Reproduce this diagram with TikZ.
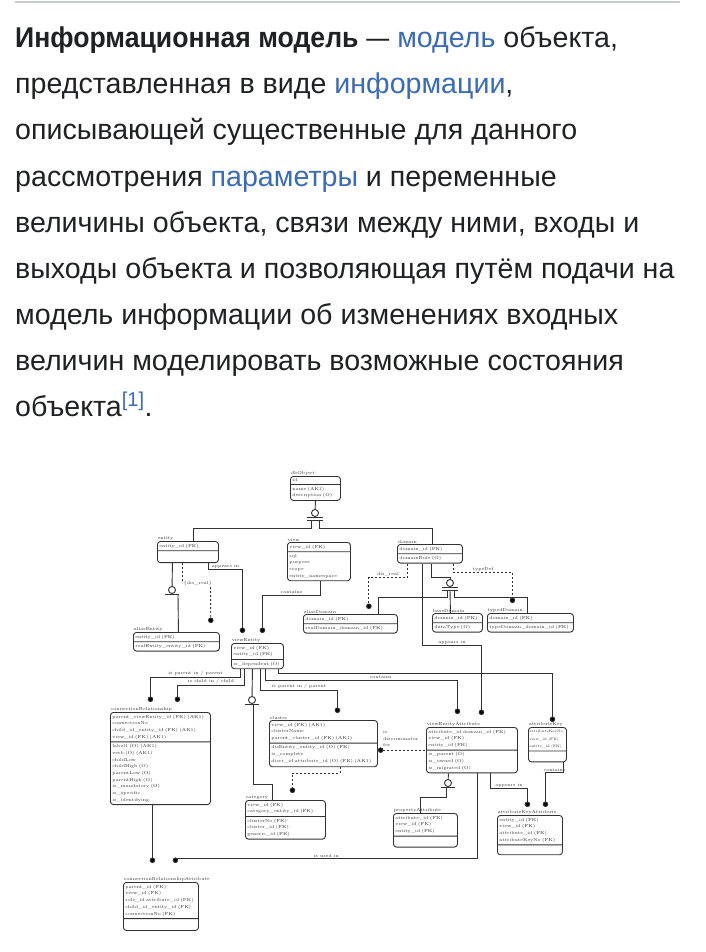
\documentclass[tikz,border=0pt]{standalone}
\usepackage{fontspec}
\usepackage{xcolor}
\usepackage{graphicx}
\usepackage{tikz}
\usetikzlibrary{arrows.meta,positioning,calc,shapes.multipart}

\newfontfamily\parafont{Liberation Sans}
\definecolor{wikitext}{RGB}{32,33,34}
\definecolor{wikilink}{RGB}{58,106,186}
\definecolor{wikirule}{RGB}{200,204,209}
\definecolor{erline}{RGB}{50,50,50}
\newcommand{\lnk}[1]{\textcolor{wikilink}{#1}}
\newcommand{\erfont}{\fontsize{4.4}{6.7}\selectfont}

\tikzset{
  para/.style={anchor=base west,inner sep=0pt,text=wikitext,font=\parafont\fontsize{28.6}{34}\selectfont},
  entbox/.style={rectangle split,rectangle split parts=2,draw=erline,line width=0.9pt,rounded corners=3pt,
    anchor=north west,font=\erfont,align=left,inner xsep=2pt,inner ysep=2pt,text=erline},
  ttl/.style={anchor=south west,font=\erfont,inner sep=0.6pt,text=erline},
  rel/.style={draw=erline,line width=0.9pt},
  nonid/.style={rel,dash pattern=on 2pt off 2pt},
  dotend/.style={-{Circle[length=5.5pt]}},
  catc/.style={circle,draw=erline,line width=0.9pt,minimum size=7pt,inner sep=0pt,fill=white},
  lbl/.style={font=\erfont,inner sep=0.8pt,text=erline}
}

\begin{document}
\begin{tikzpicture}[x=1pt,y=-1pt]
\fill[white] (0,0) rectangle (705,952);
\useasboundingbox (0,0) rectangle (705,952);
\draw[wikirule,line width=2pt] (15,2) -- (680,2);

\node[para] (l1) at (15,48) {\scalebox{0.93}[1]{\textbf{Информационная модель}} \scalebox{0.8}[1]{—} \lnk{модель} объекта,};
\node[para] (l2) at (15,94) {представленная в виде \lnk{информации},};
\node[para] (l3) at (15,140) {описывающей существенные для данного};
\node[para] (l4) at (15,186) {рассмотрения \lnk{параметры} и переменные};
\node[para] (l5) at (15,232) {величины объекта, связи между ними, входы и};
\node[para] (l6) at (15,278) {выходы объекта и позволяющая путём подачи на};
\node[para] (l7) at (15,324) {модель информации об изменениях входных};
\node[para] (l8) at (15,370) {величин моделировать возможные состояния};
\node[para] (l9) at (15,416) {объекта\textsuperscript{\lnk{[1]}}.};

\node[entbox,text width=46pt,label={[ttl]north west:dbObject}] (dbo) at (290,476)
  {id \nodepart{two} name (AK1)\\description (O)};
\node[entbox,text width=57pt,label={[ttl]north west:entity}] (ent) at (157,541)
  {entity\_id (FK) \nodepart{two} \rule{0pt}{7pt}};
\node[entbox,text width=59pt,label={[ttl]north west:view}] (view) at (287,542)
  {view\_id (FK) \nodepart{two} sql\\purpose\\scope\\entity\_namespace};
\node[entbox,text width=61pt,label={[ttl]north west:domain}] (dom) at (397,544)
  {domain\_id (FK) \nodepart{two} domainRule (O)};
\node[entbox,text width=82pt,label={[ttl]north west:aliasEntity}] (aent) at (133,632)
  {entity\_id (FK) \nodepart{two} realEntity\_entity\_id (FK)};
\node[entbox,text width=90pt,label={[ttl]north west:aliasDomain}] (adom) at (303,614)
  {domain\_id (FK) \nodepart{two} realDomain\_domain\_id (FK)};
\node[entbox,text width=46pt,label={[ttl]north west:baseDomain}] (bdom) at (432,613)
  {domain\_id (FK) \nodepart{two} dataType (O)};
\node[entbox,text width=82pt,label={[ttl]north west:typedDomain}] (tdom) at (487,613)
  {domain\_id (FK) \nodepart{two} typeDomain\_domain\_id (FK)};
\node[entbox,text width=48pt,label={[ttl]north west:viewEntity}] (ve) at (231,643)
  {view\_id (FK)\\entity\_id (FK) \nodepart{two} is\_dependent (O)};
\node[entbox,text width=96pt,label={[ttl]north west:connectionRelationship}] (cr) at (110,712)
  {parent\_viewEntity\_id (FK) (AK1)\\connectionNo\\child\_id\_entity\_id (FK) (AK1)\\view\_id (FK) (AK1)
   \nodepart{two} label1 (O) (AK1)\\verb (O) (AK1)\\childLow\\childHigh (O)\\parentLow (O)\\parentHigh (O)\\is\_mandatory (O)\\is\_specific\\is\_identifying};
\node[entbox,text width=104pt,label={[ttl]north west:cluster}] (cl) at (269,720)
  {view\_id (FK) (AK1)\\clusterName\\parent\_cluster\_id (FK) (AK1)
   \nodepart{two} disEntity\_entity\_id (O) (FK)\\is\_complete\\discr\_id attribute\_id (O) (FK) (AK1)\rule[-2pt]{0pt}{2pt}};
\node[entbox,text width=76pt,label={[ttl]north west:category}] (cat) at (245,800)
  {view\_id (FK)\\category\_entity\_id (FK) \nodepart{two} clusterNo (FK)\\cluster\_id (FK)\\generic\_id (FK)};
\node[entbox,text width=71pt,label={[ttl]north west:connectionRelationshipAttribute}] (cra) at (123,882)
  {parent\_id (FK)\\view\_id (FK)\\role\_id attribute\_id (FK)\\child\_id\_entity\_id (FK)\\connectionNo (FK)
   \nodepart{two} \rule{0pt}{7pt}};
\node[entbox,text width=36pt,inner xsep=1pt,label={[ttl]north west:attributeKey}] (ak) at (528,727)
  {\fontsize{3.6}{8.5}\selectfont attributeKeyNo\\view\_id (FK)\\entity\_id (FK) \nodepart{two} \rule{0pt}{6pt}};
\node[entbox,text width=87pt,label={[ttl]north west:viewEntityAttribute}] (vea) at (426,727)
  {attribute\_id domain\_id (FK)\\view\_id (FK)\\entity\_id (FK) \nodepart{two} is\_parent (O)\\is\_owned (O)\\is\_migrated (O)};
\node[entbox,text width=60pt,label={[ttl]north west:propertyAttribute}] (pa) at (393,813)
  {attribute\_id (FK)\\view\_id (FK)\\entity\_id (FK) \nodepart{two} \rule{0pt}{6pt}};
\node[entbox,text width=61pt,label={[ttl]north west:attributeKeyAttribute}] (aka) at (497,815)
  {entity\_id (FK)\\view\_id (FK)\\attribute\_id (FK)\\attributeKeyNo (FK) \nodepart{two} \rule{0pt}{5pt}};

\node[catc] (c1) at (315,513) {};
\node[catc] (c2) at (172,590) {};
\node[catc] (c3) at (450,583) {};
\node[catc] (c4) at (252,700) {};
\node[catc] (c5) at (448,783) {};

\draw[rel] (dbo.south) -- (c1);
\draw[rel] ([xshift=-8pt]c1.south) -- ([xshift=8pt]c1.south);
\draw[rel] ([xshift=-8pt,yshift=-3pt]c1.south) -- ([xshift=8pt,yshift=-3pt]c1.south);
\draw[rel] ([xshift=-4pt,yshift=-3pt]c1.south) -- ++(0,8) -| ([xshift=5pt]ent.north);
\draw[rel] ([xshift=4pt,yshift=-3pt]c1.south) -- ++(0,8) -| ([xshift=2.5pt]dom.north);

\draw[rel] ([xshift=-15.5pt]ent.south) -- (c2);
\draw[rel] ([xshift=-7pt]c2.south) -- ([xshift=7pt]c2.south);
\draw[rel] ([xshift=6pt]c2.south) -- ([xshift=2pt]aent.north);
\draw[nonid,dotend,shorten >=9pt] ([xshift=-5.5pt]ent.south) -- ++(0,20)
  node[lbl,anchor=west]{\{dis\_real\}} ++(28,4) -- ([xshift=-9pt]aent.north east);
\draw[rel,dotend,shorten >=10pt] ([xshift=20.5pt]ent.south) -- ++(0,6) -| ([xshift=-15pt]ve.north)
  node[lbl,above,pos=.25]{appears in};
\draw[rel,dotend,shorten >=10pt] ([xshift=1.5pt]view.south) -- ++(0,14) -| ([xshift=5pt]ve.north)
  node[lbl,above,pos=.25]{contains};

\draw[nonid,dotend,shorten >=5pt] ([xshift=10pt]dom.south west) -- ++(0,14) -| ([xshift=-29pt]adom.north east)
  node[lbl,above,pos=.25]{dis\_real};
\draw[rel] ([xshift=1pt]dom.south) -- ++(0,14) -| (c3.north);
\draw[rel] ([xshift=-8pt]c3.south) -- ([xshift=8pt]c3.south);
\draw[rel] ([xshift=-8pt,yshift=-3pt]c3.south) -- ([xshift=8pt,yshift=-3pt]c3.south);
\draw[rel] ([xshift=-3pt,yshift=-3pt]c3.south) -- ++(0,7) -| ([xshift=-19pt]adom.north east);
\draw[rel] ([yshift=-3pt]c3.south) -- ([xshift=-7pt]bdom.north);
\draw[rel] ([xshift=4pt,yshift=-3pt]c3.south) -- ++(0,7) -| ([xshift=-3pt]tdom.north);
\draw[nonid,dotend,shorten >=10pt] ([xshift=-9pt]dom.south east) -- ++(0,9) -| ([xshift=-18pt]tdom.north)
  node[lbl,above,pos=.25]{typeDef};
\draw[rel,dotend,shorten >=12pt] ([xshift=-7.5pt]dom.south) -- ++(0,82) -| ([xshift=9.5pt]vea.north)
  node[lbl,above,pos=.25]{appears in};

\draw[rel,dotend,shorten >=10pt] ([xshift=-17pt]ve.south) -- ++(0,8) -| ([xshift=-10pt]cr.north)
  node[lbl,above,pos=.25]{is parent in / parent};
\draw[rel,dotend,shorten >=10pt] ([xshift=-13pt]ve.south) -- ++(0,16) -| ([xshift=17pt]cr.north)
  node[lbl,above,pos=.25]{is child in / child};
\draw[rel] ([xshift=-5pt]ve.south) -- (c4);
\draw[rel] ([xshift=-7pt]c4.south) -- ([xshift=7pt]c4.south);
\draw[rel] ([xshift=1pt]c4.south) -- ++(0,80) -| ([xshift=-13pt]cat.north);
\draw[rel,dotend,shorten >=7pt] ([xshift=3pt]ve.south) -- ++(0,21) -| ([xshift=14pt]cl.north)
  node[lbl,above,pos=.25]{is parent in / parent};
\draw[rel,dotend,shorten >=13pt] ([xshift=8pt]ve.south) -- ++(0,11) -| ([xshift=-14.5pt]vea.north)
  node[lbl,above,pos=.3]{contains};
\draw[rel,dotend,shorten >=5pt] ([xshift=21pt]ve.south) -- ++(0,4) -| ([xshift=5pt]ak.north);

\draw[nonid,{Circle[length=5.5pt]}-] (vea.west -| cl.east) -- (vea.west)
  node[lbl,pos=0,anchor=south west,align=left,xshift=4pt,yshift=2pt]{is\\discriminator\\for};
\draw[nonid,dotend,shorten >=7pt] ([xshift=17pt]cl.south) -- ++(0,6) -| ([xshift=7pt]cat.north);

\draw[rel,dotend,shorten >=19pt] ([xshift=-8pt]cr.south) -- ([xshift=-8.5pt]cra.north);
\draw[rel,dotend,shorten >=19pt] ([xshift=5.5pt]vea.south) -- ++(0,85) -| ([xshift=14.5pt]cra.north)
  node[lbl,above,pos=.25]{is used in};

\draw[rel] ([xshift=-23.5pt]vea.south) -- (c5);
\draw[rel] ([xshift=-7pt]c5.south) -- ([xshift=7pt]c5.south);
\draw[rel] ([xshift=-2pt]c5.south) -- ++(0,10) -| ([xshift=-5pt]pa.north);
\draw[rel,dotend,shorten >=8pt] ([xshift=18.5pt]vea.south) -- ++(0,15) -| ([xshift=-2.5pt]aka.north)
  node[lbl,above,pos=.25]{appears in};
\draw[rel,dotend,shorten >=8pt] ([xshift=16pt]ak.south) -- ++(0,10) -| ([xshift=15.5pt]aka.north)
  node[lbl,above,pos=.25]{contains};
\end{tikzpicture}
\end{document}
